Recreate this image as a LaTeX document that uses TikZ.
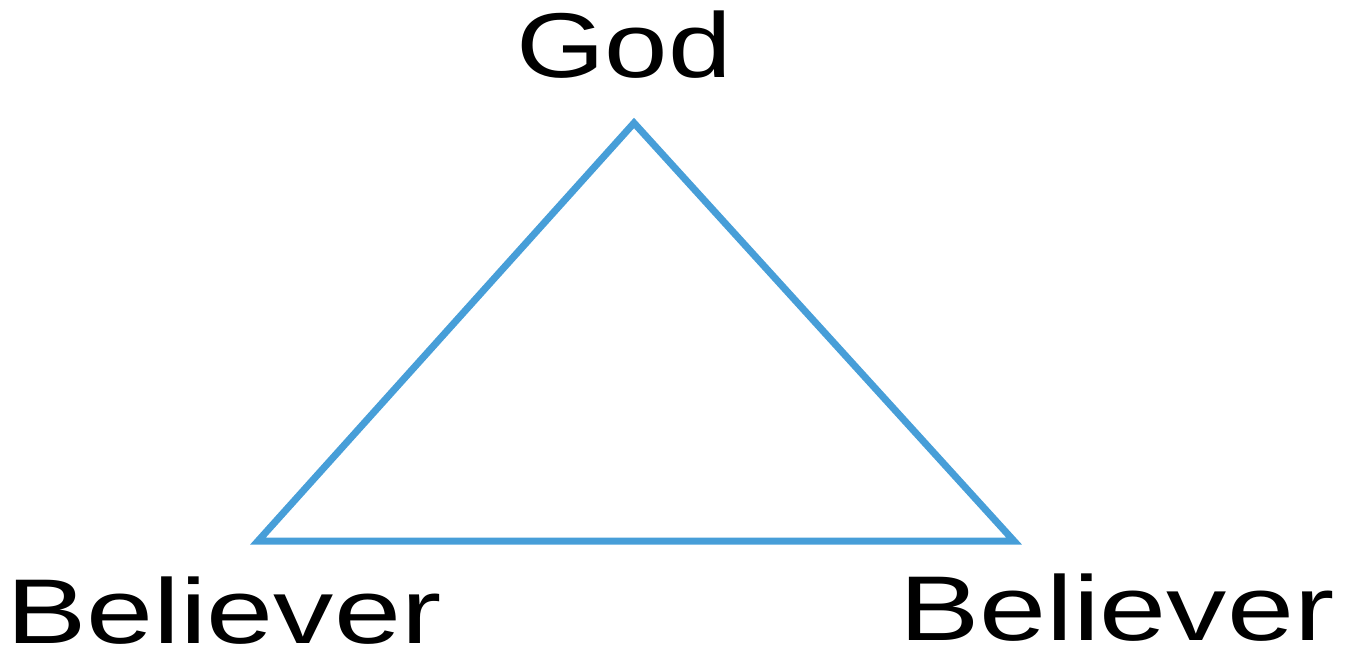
\documentclass[tikz,border=0pt]{standalone}
\usepackage{fontspec}
\setmainfont{Liberation Sans}
\definecolor{triblue}{HTML}{479ED8}
\begin{document}
\begin{tikzpicture}[x=1pt,y=-1pt,
  lbl/.style={inner sep=0pt,outer sep=0pt,text depth=0pt,font=\fontsize{92}{100}\selectfont},
  edge/.style={draw=triblue,line width=7pt,line join=miter}]
\useasboundingbox (0,0) rectangle (1346,648);
\coordinate (top) at (634,123);
\coordinate (bl) at (258,541);
\coordinate (br) at (1014,541);
\draw[edge] (top) -- (bl) -- (br) -- cycle;
\node[lbl,anchor=base west,xscale=1.24] (god) at (516,77) {God};
\node[lbl,anchor=base west,xscale=1.31] (b1) at (6,643) {Believer};
\node[lbl,anchor=base west,xscale=1.31] (b2) at (899,640) {Believer};
\end{tikzpicture}
\end{document}
